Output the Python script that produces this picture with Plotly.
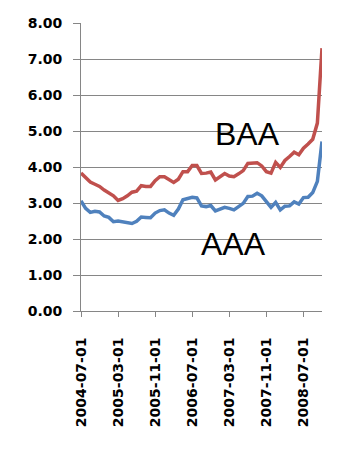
import pandas as pd
import plotly.graph_objects as go

# Monthly observations, July 2004 through November 2008
months = [d.strftime("%Y-%m-%d") for d in pd.date_range("2004-07-01", "2008-11-01", freq="MS")]

baa = [3.83, 3.69, 3.58, 3.52, 3.46, 3.36, 3.27, 3.20, 3.07, 3.12,
       3.20, 3.30, 3.33, 3.48, 3.46, 3.46, 3.62, 3.73, 3.73, 3.66,
       3.57, 3.66, 3.87, 3.87, 4.04, 4.04, 3.82, 3.83, 3.86, 3.64,
       3.72, 3.82, 3.75, 3.73, 3.81, 3.90, 4.10, 4.10, 4.12, 4.03,
       3.87, 3.83, 4.13, 3.99, 4.18, 4.29, 4.41, 4.34, 4.52, 4.64,
       4.77, 5.22, 7.30]

aaa = [3.06, 2.85, 2.74, 2.77, 2.75, 2.64, 2.60, 2.48, 2.50, 2.47,
       2.44, 2.43, 2.49, 2.61, 2.60, 2.59, 2.72, 2.79, 2.81, 2.72,
       2.66, 2.83, 3.09, 3.12, 3.16, 3.14, 2.92, 2.90, 2.93, 2.78,
       2.82, 2.88, 2.85, 2.81, 2.90, 2.99, 3.18, 3.19, 3.27, 3.20,
       3.04, 2.88, 3.02, 2.81, 2.91, 2.92, 3.03, 2.97, 3.15, 3.16,
       3.29, 3.60, 4.71]

y_ticks = [0, 1, 2, 3, 4, 5, 6, 7, 8]
x_ticks = months[::8]

fig = go.Figure()
fig.add_trace(go.Scatter(x=months, y=aaa, mode="lines", name="AAA",
                         line=dict(color="#4F81BD", width=3.5)))
fig.add_trace(go.Scatter(x=months, y=baa, mode="lines", name="BAA",
                         line=dict(color="#C0504D", width=3.5)))

fig.add_annotation(x=months[36], y=4.93, text="BAA", showarrow=False,
                   font=dict(family="Liberation Sans", size=32, color="black"))
fig.add_annotation(x=months[33], y=1.85, text="AAA", showarrow=False,
                   font=dict(family="Liberation Sans", size=32, color="black"))

fig.update_layout(
    width=346, height=451,
    margin=dict(l=81, r=24, t=23, b=140),
    paper_bgcolor="white", plot_bgcolor="white",
    showlegend=False,
    font=dict(family="DejaVu Sans", color="black"),
)
fig.update_xaxes(
    type="category", range=[0, len(months) - 1],
    tickmode="array", tickvals=x_ticks, ticktext=x_ticks,
    tickangle=-90, tickfont=dict(family="DejaVu Sans", size=14, weight="bold"),
    ticks="outside", ticklen=5, tickcolor="#868686",
    showline=True, linecolor="#868686", linewidth=1,
    showgrid=False, zeroline=False, ticklabelstandoff=15,
)
fig.update_yaxes(
    range=[0, 8], tickmode="array", tickvals=y_ticks,
    tickformat=".2f", tickfont=dict(family="DejaVu Sans", size=14, weight="bold"),
    ticks="outside", ticklen=7, tickcolor="#868686",
    showline=True, linecolor="#868686", linewidth=1,
    showgrid=True, gridcolor="#868686", gridwidth=1,
    zeroline=False, ticklabelstandoff=8,
)

fig.write_html("out.html")
